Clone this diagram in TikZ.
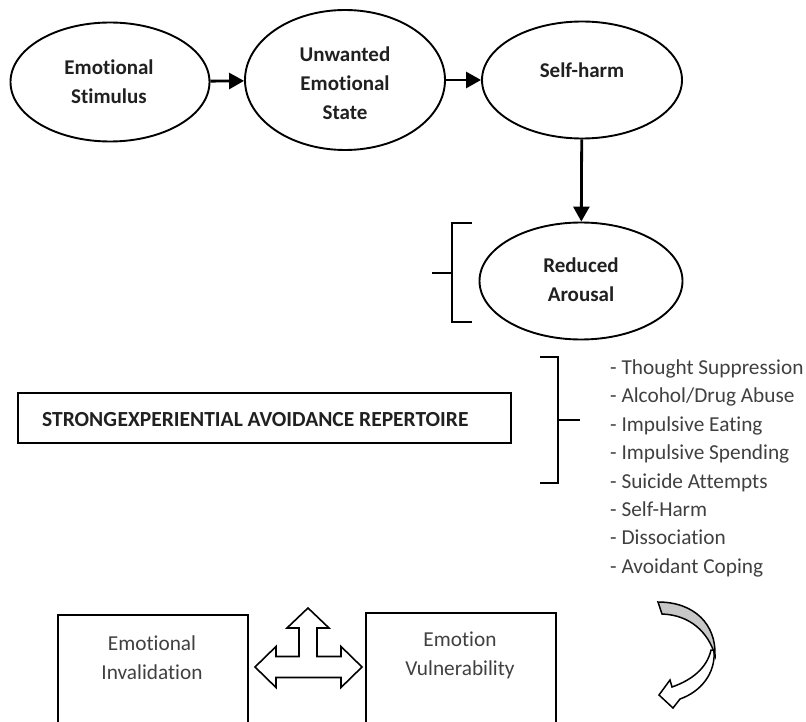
\documentclass[tikz,border=0pt]{standalone}
\usepackage{fontspec}
\setmainfont{Carlito}[Ligatures=NoCommon]
\usetikzlibrary{shapes.geometric,arrows.meta}
\definecolor{txtdark}{HTML}{202020}
\definecolor{txtgray}{HTML}{404040}
\definecolor{arrowgray}{HTML}{C8C8C8}
\tikzset{
  ovalnode/.style={ellipse, draw, line width=1.9pt, inner sep=0pt, minimum width=#1},
  ovaltext/.style={font=\bfseries\fontsize{21}{29}\selectfont, text=txtdark, align=center, inner sep=0pt},
  flowarrow/.style={line width=2.8pt, -{Triangle[length=15pt,width=16pt]}},
  bracketline/.style={line width=2.2pt},
  listitem/.style={anchor=base west, font=\fontsize{21.3}{28}\selectfont, text=txtgray, inner sep=0pt},
  plainbox/.style={draw, line width=2pt, inner sep=0pt},
  boxtext/.style={font=\fontsize{21.3}{29}\selectfont, text=txtgray, align=center, inner sep=0pt}
}
\begin{document}
\begin{tikzpicture}[x=1pt,y=-1pt]
\useasboundingbox (0,0) rectangle (806,722);

% top ellipses
\node[ovalnode=199pt, minimum height=119pt] (es) at (110,82) {};
\node[ovaltext] (estext) at (109,82) {Emotional\\Stimulus};
\node[ovalnode=200pt, minimum height=140pt] (ue) at (345,80) {};
\node[ovaltext] (uetext) at (345,83) {Unwanted\\Emotional\\State};
\node[ovalnode=200pt, minimum height=117pt] (sh) at (582,80) {};
\node[ovaltext] (shtext) at (582,70) {Self-harm};
\node[ovalnode=203pt, minimum height=117pt] (ra) at (581,281) {};
\node[ovaltext] (ratext) at (581,280) {Reduced\\Arousal};

\draw[flowarrow] (es) -- (ue);
\draw[flowarrow] (ue) -- (sh);
\draw[flowarrow] (sh) -- (ra);

% brackets
\draw[bracketline] (472,223) -- (452,223) -- (452,322) -- (472,322);
\draw[bracketline] (452,273) -- (432,273);
\draw[bracketline] (540,357) -- (558,357) -- (558,483) -- (540,483);
\draw[bracketline] (558,420) -- (580,420);

% repertoire box
\node[plainbox, line width=2.6pt, minimum width=493pt, minimum height=50pt] (rep) at (264.5,418) {};
\node[anchor=west, font=\bfseries\fontsize{21.5}{24}\selectfont, text=txtdark, inner sep=0pt] (reptext) at (42,420) {STRONG\hspace{0.5pt}EXPERIENTIAL AVOIDANCE REPERTOIRE};

% list
\node[listitem] (l1) at (610,374.5) {- Thought Suppression};
\node[listitem] (l2) at (610,402.9) {- Alcohol/Drug Abuse};
\node[listitem] (l3) at (610,431.3) {- Impulsive Eating};
\node[listitem] (l4) at (610,459.7) {- Impulsive Spending};
\node[listitem] (l5) at (610,488.1) {- Suicide Attempts};
\node[listitem] (l6) at (610,516.5) {- Self-Harm};
\node[listitem] (l7) at (610,544.9) {- Dissociation};
\node[listitem] (l8) at (610,573.3) {- Avoidant Coping};

% bottom boxes
\begin{scope}
\clip (0,0) rectangle (806,722);
\node[plainbox, minimum width=190pt, minimum height=130pt, anchor=north west] (ei) at (57,614) {};
\node[plainbox, minimum width=190pt, minimum height=130pt, anchor=north west] (ev) at (365,612) {};
\end{scope}
\node[boxtext] (eitext) at (152,657.5) {Emotional\\Invalidation};
\node[boxtext] (evtext) at (460,655.5) {Emotion\\Vulnerability};

% three-way arrow
\draw[line width=1.6pt, fill=white, line join=miter]
  (255,667) -- (276,646.5) -- (276,656.5) -- (299,656.5) -- (299,628) -- (287,628)
  -- (308,608) -- (329,628) -- (317,628) -- (317,656.5) -- (341,656.5) -- (341,646.5)
  -- (362,667) -- (341,687.5) -- (341,677.5) -- (276,677.5) -- (276,687.5) -- cycle;

% curved arrow
\draw[line width=1.5pt, fill=white, line join=miter]
  (714,650) .. controls (716,674) and (700,692) .. (680,699) -- (673,708) -- (659,695)
  -- (670,680) -- (672,687) .. controls (692,680) and (707,668) .. (711,650) -- cycle;
\draw[line width=1.5pt, fill=arrowgray, line join=miter]
  (658,602) .. controls (695,602) and (716,625) .. (715,655)
  .. controls (708,632) and (690,615) .. (662,614) -- cycle;
\end{tikzpicture}
\end{document}
